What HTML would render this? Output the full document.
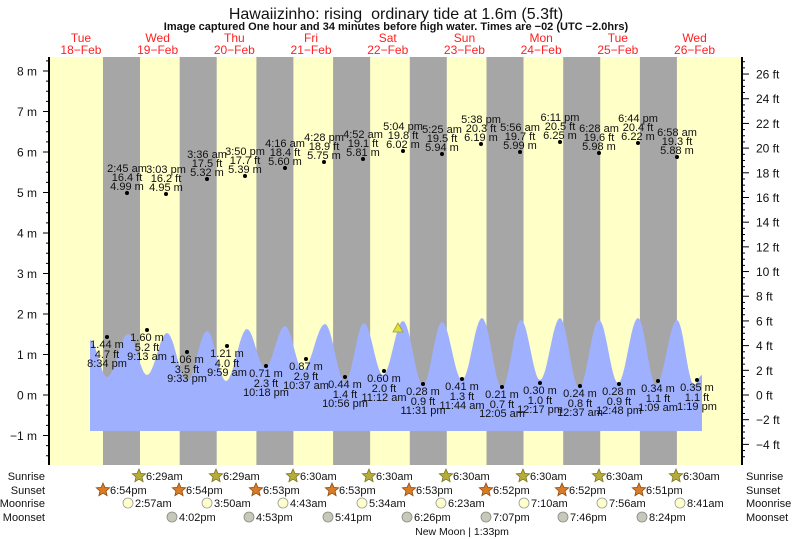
<!DOCTYPE html>
<html><head><meta charset="utf-8"><style>
html,body{margin:0;padding:0;background:#fff;}
svg{display:block;font-family:"Liberation Sans",sans-serif;}
</style></head><body>
<svg id="s" width="793" height="539" xmlns="http://www.w3.org/2000/svg">
<rect x="0" y="0" width="793" height="539" fill="#fff"/>
<g id="bg"></g>
<path id="tide" fill="#9fb0ff" d=""/>
<g id="fg"></g>
<text x="396" y="19" font-size="16" text-anchor="middle" fill="#111" xml:space="preserve">Hawaiizinho: rising  ordinary tide at 1.6m (5.3ft)</text>
<text x="396" y="30" font-size="11" font-weight="bold" text-anchor="middle" fill="#111">Image captured One hour and 34 minutes before high water. Times are −02 (UTC −2.0hrs)</text>
</svg>
<script>
const NS="http://www.w3.org/2000/svg";
const bg=document.getElementById('bg'),fg=document.getElementById('fg');
function el(p,tag,a,txt){const e=document.createElementNS(NS,tag);for(const k in a)e.setAttribute(k,a[k]);if(txt!==undefined)e.textContent=txt;p.appendChild(e);return e;}
const X0=42.6,D=76.7;
el(bg,'rect',{x:49,y:57,width:693,height:408,fill:'#ffffc8'});
for(let i=0;i<8;i++){const a=X0+D*(i+0.7875),b=X0+D*(i+1.27);el(bg,'rect',{x:a,y:57,width:b-a,height:408,fill:'#a6a6a6'});}
const days=[["Tue","18−Feb"],["Wed","19−Feb"],["Thu","20−Feb"],["Fri","21−Feb"],["Sat","22−Feb"],["Sun","23−Feb"],["Mon","24−Feb"],["Tue","25−Feb"],["Wed","26−Feb"]];
days.forEach((d,i)=>{const x=X0+D*(i+0.5);el(fg,'text',{x:x,y:42,'font-size':12,'text-anchor':'middle',fill:'#ff2020'},d[0]);el(fg,'text',{x:x,y:54,'font-size':12,'text-anchor':'middle',fill:'#ff2020'},d[1]);});
const pts=[[90,340],[107,377],[128,334],[147,375],[167,333],[187,381],[207,331],[226,381],[247,329],[265,368],[285,326],[303,370],[325,324],[345,382],[364,323],[383,375],[403,321],[423,385],[442,322],[462,380],[482,318],[502,388],[521,320],[540,380],[560,318],[579,388],[599,320],[618,383],[638,318],[656,385],[677,320],[694,385],[702,375]];
let d="M90,431 L90,340";
for(let i=0;i<pts.length-1;i++){const [x1,y1]=pts[i],[x2,y2]=pts[i+1];for(let s=1;s<=12;s++){const t=s/12;const y=y1+(y2-y1)*(1-Math.cos(Math.PI*t))/2;d+=" L"+(x1+(x2-x1)*t).toFixed(1)+","+y.toFixed(1);}}
d+=" L702,431 Z";
document.getElementById('tide').setAttribute('d',d);
el(fg,'line',{x1:49,y1:57,x2:49,y2:465,stroke:'#000','stroke-width':2});
el(fg,'line',{x1:742,y1:57,x2:742,y2:465,stroke:'#000','stroke-width':2});
const ym=m=>395-40.5*m;
for(let m=-1.75;m<=8.25;m+=0.25){const y=ym(m);if(y<58||y>465)continue;const maj=Math.abs(m-Math.round(m))<1e-6;el(fg,'line',{x1:maj?43:46,y1:y,x2:49,y2:y,stroke:'#000','stroke-width':1});if(maj){const r=Math.round(m);el(fg,'text',{x:37,y:y+4.5,'font-size':12,'text-anchor':'end',fill:'#111'},(r<0?"−"+(-r):r)+" m");}}
const yf=f=>395-40.5*f/3.2808;
for(let f=-5;f<=27;f+=0.5){const y=yf(f);if(y<58||y>465)continue;const maj=(f%2===0);el(fg,'line',{x1:742,y1:y,x2:maj?749:745,y2:y,stroke:'#000','stroke-width':1});if(maj)el(fg,'text',{x:756,y:y+4.5,'font-size':12,fill:'#111'},(f<0?"−"+(-f):f)+" ft");}
const H=[["2:45 am","16.4 ft","4.99 m",127,193],["3:03 pm","16.2 ft","4.95 m",166,194],["3:36 am","17.5 ft","5.32 m",207,179],["3:50 pm","17.7 ft","5.39 m",245,176],["4:16 am","18.4 ft","5.60 m",285,168],["4:28 pm","18.9 ft","5.75 m",324,162],["4:52 am","19.1 ft","5.81 m",363,159],["5:04 pm","19.8 ft","6.02 m",403,151],["5:25 am","19.5 ft","5.94 m",442,154],["5:38 pm","20.3 ft","6.19 m",481,144],["5:56 am","19.7 ft","5.99 m",520,152],["6:11 pm","20.5 ft","6.25 m",560,142],["6:28 am","19.6 ft","5.98 m",599,153],["6:44 pm","20.4 ft","6.22 m",638,143],["6:58 am","19.3 ft","5.88 m",677,157]];
const ts={'font-size':11,'text-anchor':'middle',fill:'#111'};
H.forEach(h=>{const [a,b,c,x,y]=h;el(fg,'circle',{cx:x,cy:y,r:2,fill:'#000'});el(fg,'text',Object.assign({x:x,y:y-21},ts),a);el(fg,'text',Object.assign({x:x,y:y-12},ts),b);el(fg,'text',Object.assign({x:x,y:y-3},ts),c);});
const L=[["1.44 m","4.7 ft","8:34 pm",107,337],["1.60 m","5.2 ft","9:13 am",147,330],["1.06 m","3.5 ft","9:33 pm",187,352],["1.21 m","4.0 ft","9:59 am",227,346],["0.71 m","2.3 ft","10:18 pm",266,366],["0.87 m","2.9 ft","10:37 am",306,359],["0.44 m","1.4 ft","10:56 pm",345,377],["0.60 m","2.0 ft","11:12 am",384,371],["0.28 m","0.9 ft","11:31 pm",423,384],["0.41 m","1.3 ft","11:44 am",462,379],["0.21 m","0.7 ft","12:05 am",502,387],["0.30 m","1.0 ft","12:17 pm",540,383],["0.24 m","0.8 ft","12:37 am",580,386],["0.28 m","0.9 ft","12:48 pm",619,384],["0.34 m","1.1 ft","1:09 am",658,381],["0.35 m","1.1 ft","1:19 pm",697,380]];
L.forEach(h=>{const [a,b,c,x,y]=h;el(fg,'circle',{cx:x,cy:y,r:2,fill:'#000'});el(fg,'text',Object.assign({x:x,y:y+11},ts),a);el(fg,'text',Object.assign({x:x,y:y+21},ts),b);el(fg,'text',Object.assign({x:x,y:y+30},ts),c);});
el(fg,'polygon',{points:"398,323 393,332 403,332",fill:'#e0e040',stroke:'#a0a020','stroke-width':0.8});
const rows=[["Sunrise",476],["Sunset",490],["Moonrise",503],["Moonset",517]];
rows.forEach(r=>{el(fg,'text',{x:45,y:r[1]+4,'font-size':11,'text-anchor':'end',fill:'#111'},r[0]);el(fg,'text',{x:746,y:r[1]+4,'font-size':11,fill:'#111'},r[0]);});
function star(x,y,fill,stroke){let p=[];for(let k=0;k<10;k++){const a=-Math.PI/2+k*Math.PI/5,rr=k%2?3.2:7;p.push((x+rr*Math.cos(a)).toFixed(1)+","+(y+rr*Math.sin(a)).toFixed(1));}el(fg,'polygon',{points:p.join(' '),fill:fill,stroke:stroke,'stroke-width':0.8});}
const rs={'font-size':11,fill:'#111'};
const sr=[139,216,293,369,446,523,599,676],srt=["6:29am","6:29am","6:30am","6:30am","6:30am","6:30am","6:30am","6:30am"];
sr.forEach((x,i)=>{star(x,476,'#b5ad3a','#7a7420');el(fg,'text',Object.assign({x:x+7,y:480},rs),srt[i]);});
const ss=[103,179,256,332,409,486,562,639],sst=["6:54pm","6:54pm","6:53pm","6:53pm","6:53pm","6:52pm","6:52pm","6:51pm"];
ss.forEach((x,i)=>{star(x,490,'#d97c28','#8a4a10');el(fg,'text',Object.assign({x:x+7,y:494},rs),sst[i]);});
const mr=[128,207,283,362,441,524,602,680],mrt=["2:57am","3:50am","4:43am","5:34am","6:23am","7:10am","7:56am","8:41am"];
mr.forEach((x,i)=>{el(fg,'circle',{cx:x,cy:503,r:5,fill:'#ffffcc',stroke:'#999','stroke-width':0.8});el(fg,'text',Object.assign({x:x+7,y:507},rs),mrt[i]);});
const ms=[172,249,328,407,486,563,642],mst=["4:02pm","4:53pm","5:41pm","6:26pm","7:07pm","7:46pm","8:24pm"];
ms.forEach((x,i)=>{el(fg,'circle',{cx:x,cy:517,r:5,fill:'#c8c8b8',stroke:'#888','stroke-width':0.8});el(fg,'text',Object.assign({x:x+7,y:521},rs),mst[i]);});
el(fg,'text',{x:462,y:535,'font-size':10.5,'text-anchor':'middle',fill:'#111'},"New Moon | 1:33pm");
</script>
</body></html>
